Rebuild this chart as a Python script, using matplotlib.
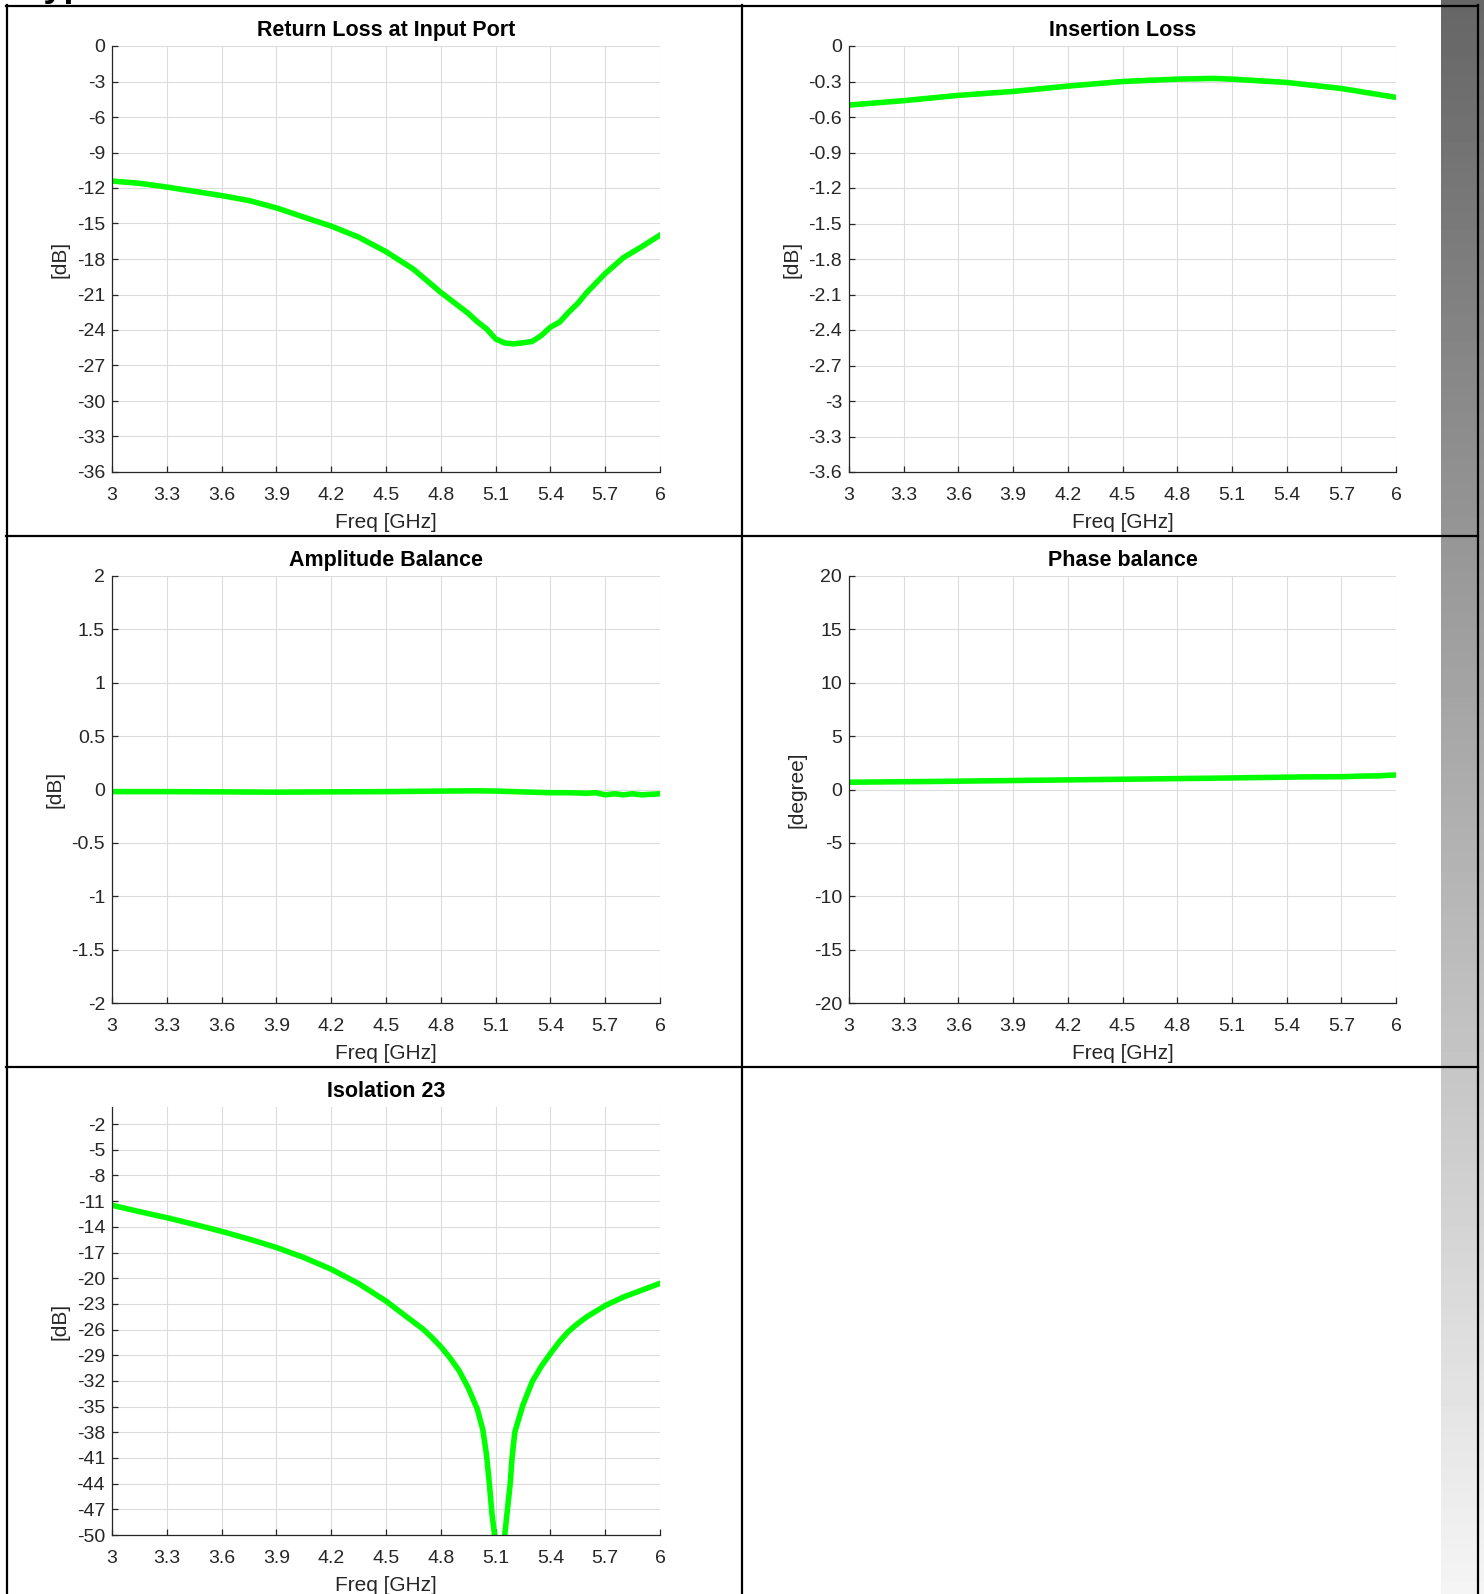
import numpy as np
import matplotlib
matplotlib.use('Agg')
import matplotlib.pyplot as plt
from matplotlib.lines import Line2D
from matplotlib.ticker import FuncFormatter

plt.rcParams['font.family'] = ['Liberation Sans', 'DejaVu Sans']
plt.rcParams['axes.unicode_minus'] = False

# figure size in pixels
W, H = 1484, 1594
GREEN = '#00FF00'
AXCOL = '#262626'

# Return loss at input port
rl_freq = [3.0, 3.15, 3.3, 3.45, 3.6, 3.75, 3.9, 4.05, 4.2, 4.35, 4.5, 4.65, 4.8,
           4.95, 5.0, 5.05, 5.1, 5.15, 5.2, 5.25, 5.3, 5.35, 5.4, 5.45, 5.5, 5.55,
           5.6, 5.7, 5.8, 5.9, 6.0]
rl_db = [-11.41, -11.6, -11.92, -12.28, -12.64, -13.06, -13.68, -14.46, -15.22,
         -16.15, -17.38, -18.86, -20.82, -22.59, -23.3, -23.9, -24.75, -25.1,
         -25.17, -25.08, -24.97, -24.47, -23.76, -23.34, -22.5, -21.75, -20.82,
         -19.23, -17.88, -16.96, -15.98]

# Insertion loss
il_freq = [3.0, 3.3, 3.6, 3.9, 4.2, 4.5, 4.8, 5.0, 5.1, 5.4, 5.7, 6.0]
il_db = [-0.499, -0.462, -0.417, -0.384, -0.339, -0.300, -0.280, -0.274, -0.280,
         -0.308, -0.359, -0.434]

# Amplitude balance
ab_freq = [3.0, 3.3, 3.6, 3.9, 4.2, 4.5, 4.8, 5.0, 5.1, 5.2, 5.3, 5.4, 5.5, 5.6,
           5.65, 5.7, 5.75, 5.8, 5.85, 5.9, 5.95, 6.0]
ab_db = [-0.02, -0.02, -0.022, -0.025, -0.022, -0.02, -0.015, -0.012, -0.015,
         -0.02, -0.025, -0.03, -0.03, -0.035, -0.03, -0.05, -0.04, -0.05, -0.04,
         -0.05, -0.045, -0.04]

# Phase balance
pb_freq = [3.0, 3.5, 4.0, 4.5, 5.0, 5.5, 5.7, 5.8, 5.9, 6.0]
pb_deg = [0.68, 0.76, 0.86, 0.96, 1.06, 1.18, 1.2, 1.25, 1.28, 1.36]

# Isolation 23
iso_freq = [3.0, 3.15, 3.3, 3.45, 3.6, 3.75, 3.9, 4.05, 4.2, 4.35, 4.5, 4.6, 4.7,
            4.75, 4.8, 4.85, 4.9, 4.95, 5.0, 5.03, 5.05, 5.065, 5.08, 5.1, 5.125,
            5.15, 5.165, 5.18, 5.19, 5.205, 5.23, 5.25, 5.3, 5.35, 5.4, 5.45, 5.5,
            5.55, 5.6, 5.7, 5.8, 5.9, 6.0]
iso_db = [-11.48, -12.22, -12.93, -13.71, -14.53, -15.43, -16.41, -17.58, -18.95,
          -20.63, -22.67, -24.3, -25.9, -26.9, -28.0, -29.3, -30.8, -32.8, -35.3,
          -37.7, -40.6, -43.8, -47.5, -51.0, -60.0, -50.0, -47.0, -44.0, -41.0,
          -38.0, -36.2, -34.8, -32.1, -30.3, -28.8, -27.4, -26.2, -25.3, -24.5,
          -23.2, -22.2, -21.4, -20.6]

x_ticks = [3, 3.3, 3.6, 3.9, 4.2, 4.5, 4.8, 5.1, 5.4, 5.7, 6]


def px_axes(fig, x0, y0, x1, y1):
    return fig.add_axes([x0 / W, 1 - y1 / H, (x1 - x0) / W, (y1 - y0) / H])


def style_axes(ax, title, ylabel, yticks, ylim):
    ax.set_xlim(3, 6)
    ax.set_ylim(*ylim)
    ax.set_xticks(x_ticks)
    ax.set_yticks(yticks)
    fmt = FuncFormatter(lambda v, p: '%g' % round(v, 6))
    ax.xaxis.set_major_formatter(fmt)
    ax.yaxis.set_major_formatter(fmt)
    ax.grid(True, color='#dcdcdc', lw=0.8)
    ax.set_axisbelow(True)
    for s in ['top', 'right']:
        ax.spines[s].set_visible(False)
    for s in ['left', 'bottom']:
        ax.spines[s].set_color(AXCOL)
        ax.spines[s].set_linewidth(0.9)
    ax.tick_params(direction='in', length=4, width=0.9, colors=AXCOL,
                   labelsize=14)
    ax.tick_params(axis='x', pad=11)
    ax.tick_params(axis='y', pad=5)
    ax.set_title(title, fontsize=15.5, fontweight='bold', pad=7)
    ax.set_xlabel('Freq [GHz]', fontsize=15, color=AXCOL, labelpad=6)
    ax.set_ylabel(ylabel, fontsize=15, color=AXCOL, labelpad=5)


fig = plt.figure(figsize=(W / 100, H / 100), dpi=100)

# grey gradient strip on the right edge
ax_g = fig.add_axes([1441 / W, 0, (W - 1441) / W, 1])
grad = np.linspace(0.40, 0.96, 256).reshape(-1, 1)
ax_g.imshow(grad, cmap='gray', vmin=0, vmax=1, aspect='auto')
ax_g.axis('off')

col_x = [(112, 660), (849, 1396)]
row_y = [(46, 472), (576, 1003), (1107, 1535)]

ax1 = px_axes(fig, col_x[0][0], row_y[0][0], col_x[0][1], row_y[0][1])
ax1.plot(rl_freq, rl_db, color=GREEN, lw=4)
style_axes(ax1, 'Return Loss at Input Port', '[dB]', np.arange(0, -37, -3), (-36, 0))

ax2 = px_axes(fig, col_x[1][0], row_y[0][0], col_x[1][1], row_y[0][1])
ax2.plot(il_freq, il_db, color=GREEN, lw=4)
style_axes(ax2, 'Insertion Loss', '[dB]', np.arange(0, -3.61, -0.3), (-3.6, 0))

ax3 = px_axes(fig, col_x[0][0], row_y[1][0], col_x[0][1], row_y[1][1])
ax3.plot(ab_freq, ab_db, color=GREEN, lw=4)
style_axes(ax3, 'Amplitude Balance', '[dB]', np.arange(-2, 2.01, 0.5), (-2, 2))

ax4 = px_axes(fig, col_x[1][0], row_y[1][0], col_x[1][1], row_y[1][1])
ax4.plot(pb_freq, pb_deg, color=GREEN, lw=4)
style_axes(ax4, 'Phase balance', '[degree]', np.arange(-20, 21, 5), (-20, 20))

ax5 = px_axes(fig, col_x[0][0], row_y[2][0], col_x[0][1], row_y[2][1])
ax5.plot(iso_freq, iso_db, color=GREEN, lw=4)
style_axes(ax5, 'Isolation 23', '[dB]', np.arange(-50, -1, 3), (-50, 0))

# table borders
def hline(y, x0, x1):
    fig.add_artist(Line2D([x0 / W, x1 / W], [1 - y / H, 1 - y / H],
                          transform=fig.transFigure, color='k', lw=1.6))


def vline(x, y0, y1):
    fig.add_artist(Line2D([x / W, x / W], [1 - y0 / H, 1 - y1 / H],
                          transform=fig.transFigure, color='k', lw=1.6))


hline(5.5, 6, 1478)
hline(535.5, 6, 1478)
hline(1066.5, 6, 1478)
vline(6.5, 5, H)
vline(742, 5, H)
vline(1477.5, 5, H)

# heading cut off at the top of the page (only the descenders show)
fig.text(24 / W, 1 + 3.5 / H, 'Typical Performance', fontsize=26,
         fontweight='bold', va='baseline', ha='left')

fig.savefig('out.png', dpi=100)
